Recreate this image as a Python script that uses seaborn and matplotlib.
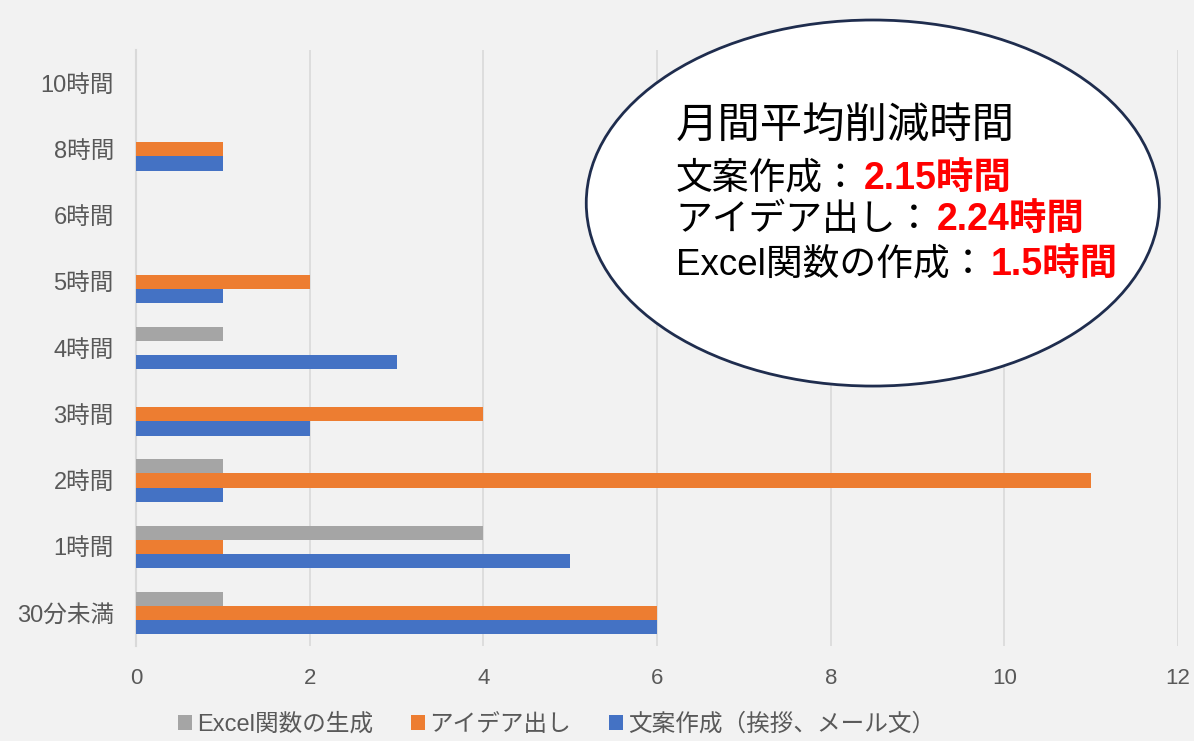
import pandas as pd
import seaborn as sns
import matplotlib.pyplot as plt
from matplotlib.patches import Ellipse
from matplotlib.text import Annotation

categories = ['10時間', '8時間', '6時間', '5時間', '4時間', '3時間', '2時間', '1時間', '30分未満']
series_names = ['Excel関数の生成', 'アイデア出し', '文案作成（挨拶、メール文）']
excel_counts = [0, 0, 0, 0, 1, 0, 1, 4, 1]
idea_counts = [0, 1, 0, 2, 0, 4, 11, 1, 6]
draft_counts = [0, 1, 0, 1, 3, 2, 1, 5, 6]
colors = ['#A5A5A5', '#ED7D31', '#4472C4']
x_ticks = [0, 2, 4, 6, 8, 10, 12]

summary_title = '月間平均削減時間'
summary_labels = ['文案作成：', 'アイデア出し：', 'Excel関数の作成：']
summary_values = ['2.15時間', '2.24時間', '1.5時間']

rows = []
for name, vals in zip(series_names, [excel_counts, idea_counts, draft_counts]):
    for cat, v in zip(categories, vals):
        rows.append({'category': cat, 'series': name, 'count': v})
df = pd.DataFrame(rows)

sns.set_theme(style='white')
plt.rcParams['font.family'] = ['Liberation Sans', 'Noto Sans CJK JP']

fig = plt.figure(figsize=(11.94, 7.41), dpi=100)
fig.patch.set_facecolor('#F2F2F2')
ax = fig.add_axes([0.114, 0.128, 0.8726, 0.8045])
ax.set_facecolor('#F2F2F2')

sns.barplot(data=df, y='category', x='count', hue='series', order=categories,
            hue_order=series_names, palette=colors, orient='h', width=0.64,
            gap=0, saturation=1, linewidth=0, ax=ax, zorder=3)

ax.set_xlim(0, 12)
ax.set_xticks(x_ticks)
ax.set_xlabel('')
ax.set_ylabel('')
ax.grid(axis='x', color='#D9D9D9', linewidth=1.2, zorder=0)
ax.grid(axis='y', visible=False)
for side in ['top', 'right', 'bottom']:
    ax.spines[side].set_visible(False)
ax.spines['left'].set_color('#D9D9D9')
ax.spines['left'].set_linewidth(1.5)
ax.tick_params(axis='both', length=0, labelcolor='#595959')
ax.tick_params(axis='x', pad=16, labelsize=16)
ax.tick_params(axis='y', pad=16, labelsize=17)

sns.move_legend(ax, 'lower center', bbox_to_anchor=(0.466, -0.022), bbox_transform=fig.transFigure,
                ncol=3, frameon=False, title=None, handlelength=0.6, handleheight=0.6,
                handletextpad=0.2, columnspacing=1.6, fontsize=17)
for t in ax.get_legend().get_texts():
    t.set_color('#595959')

ell = Ellipse((0.731, 0.726), 0.48, 0.494, transform=fig.transFigure, facecolor='white',
              edgecolor='#1F2D4E', linewidth=2, zorder=10)
fig.patches.append(ell)

fig.text(0.566, 0.827, summary_title, fontsize=30.5, color='black', va='center', zorder=11)
ys = [0.759, 0.703, 0.643]
for y, lab, val in zip(ys, summary_labels, summary_values):
    t = fig.text(0.566, y, lab, fontsize=26.5, color='black', va='center', zorder=11)
    ann = Annotation(val, xy=(1, 0.5), xycoords=t, xytext=(3, 0), textcoords='offset points',
                     fontsize=27, fontweight='bold', color='#FF0000', va='center', ha='left',
                     annotation_clip=False)
    ann.set_zorder(12)
    fig.add_artist(ann)

fig.savefig('out.png', dpi=100, facecolor=fig.get_facecolor())
